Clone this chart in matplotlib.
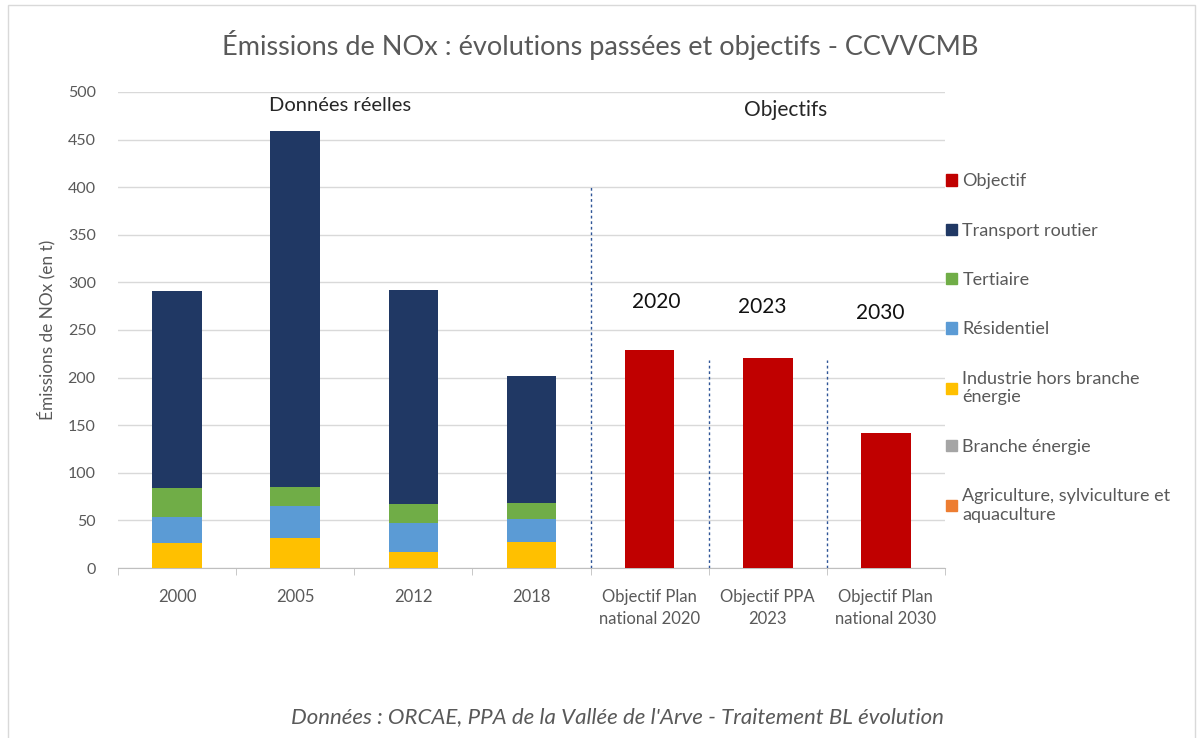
import matplotlib
matplotlib.use("Agg")
import matplotlib.pyplot as plt
from matplotlib.patches import Patch, Rectangle
import numpy as np

plt.rcParams['font.family'] = ['Lato', 'DejaVu Sans']

categories = ["2000", "2005", "2012", "2018",
              "Objectif Plan\nnational 2020", "Objectif PPA\n2023", "Objectif Plan\nnational 2030"]
agriculture = [0, 0, 0, 0, 0, 0, 0]
branche_energie = [0, 0, 0, 0, 0, 0, 0]
industrie = [26, 31, 17, 27, 0, 0, 0]
residentiel = [28, 34, 30, 24, 0, 0, 0]
tertiaire = [30, 20, 20, 17, 0, 0, 0]
transport = [207, 374, 225, 134, 0, 0, 0]
objectif = [0, 0, 0, 0, 229, 221, 142]
objective_years = ["2020", "2023", "2030"]

series = [
    ("Agriculture, sylviculture et\naquaculture", agriculture, "#ED7D31"),
    ("Branche énergie", branche_energie, "#A5A5A5"),
    ("Industrie hors branche\nénergie", industrie, "#FFC000"),
    ("Résidentiel", residentiel, "#5B9BD5"),
    ("Tertiaire", tertiaire, "#70AD47"),
    ("Transport routier", transport, "#203864"),
    ("Objectif", objectif, "#C00000"),
]

W, H = 1200, 738
fig = plt.figure(figsize=(12, 7.38), dpi=100)
fig.patches.append(Rectangle((8 / W, -0.05), 1 - 13 / W, 1.05 - 5 / H, transform=fig.transFigure,
                             fill=False, edgecolor="#D9D9D9", lw=1.0))

ax = fig.add_axes([118 / W, 1 - 568 / H, (945 - 118) / W, (568 - 92) / H])
x = np.arange(len(categories))
bottom = np.zeros(len(categories))
handles = {}
for name, vals, col in series:
    v = np.array(vals, dtype=float)
    ax.bar(x, v, 0.42, bottom=bottom, color=col, label=name, zorder=3)
    bottom += v
    handles[name] = Patch(color=col, label=name)

ax.set_xlim(-0.5, len(categories) - 0.5)
ax.set_ylim(0, 500)
ax.set_yticks(np.arange(0, 501, 50))
ax.yaxis.grid(True, color="#D9D9D9", lw=1, zorder=0)
ax.set_axisbelow(True)
for s in ["top", "right", "left"]:
    ax.spines[s].set_visible(False)
ax.spines["bottom"].set_color("#BFBFBF")
ax.set_xticks(x)
ax.set_xticklabels(categories, linespacing=1.45)
ax.set_xticks(np.arange(-0.5, len(categories)), minor=True)
ax.tick_params(axis="x", which="major", length=0, pad=15, labelsize=12, labelcolor="#595959")
ax.tick_params(axis="x", which="minor", length=5, color="#BFBFBF")
ax.tick_params(axis="y", length=0, labelsize=11.5, labelcolor="#595959", pad=16)
ax.set_ylabel("Émissions de NOx (en t)", fontsize=12.4, color="#595959", labelpad=9)

# dashed separators
ax.vlines([3.5], 0, 402, colors="#2F5597", linestyles=(0, (2, 2)), lw=1, zorder=4)
ax.vlines([4.5, 5.5], 0, 218, colors="#2F5597", linestyles=(0, (2, 2)), lw=1, zorder=4)

# annotations
ax.text(1.38, 486, "Données réelles", ha="center", va="center", fontsize=14.5, color="#262626")
ax.text(5.15, 481, "Objectifs", ha="center", va="center", fontsize=15, color="#262626")
ann_y = [279, 274, 268]
ann_x = [4.06, 4.95, 5.95]
for xx, yy, lab in zip(ann_x, ann_y, objective_years):
    ax.text(xx, yy, lab, ha="center", va="center", fontsize=15, color="#111111")

fig.text(0.5, 1 - 45 / H, "Émissions de NOx : évolutions passées et objectifs - CCVVCMB",
         ha="center", va="center", fontsize=19.5, color="#595959")
fig.text(617 / W, 1 - 717 / H, "Données : ORCAE, PPA de la Vallée de l'Arve - Traitement BL évolution",
         ha="center", va="center", fontsize=16, color="#595959", style="italic")

order = ["Objectif", "Transport routier", "Tertiaire", "Résidentiel",
         "Industrie hors branche\nénergie", "Branche énergie",
         "Agriculture, sylviculture et\naquaculture"]
fig.legend(handles=[handles[n] for n in order], loc="upper left",
           bbox_to_anchor=(939 / W, 1 - 166 / H), frameon=False, fontsize=13,
           labelcolor="#595959", handlelength=0.6, handleheight=0.6, handletextpad=0.3,
           labelspacing=1.85, borderaxespad=0)

fig.savefig("out.png", dpi=100)
